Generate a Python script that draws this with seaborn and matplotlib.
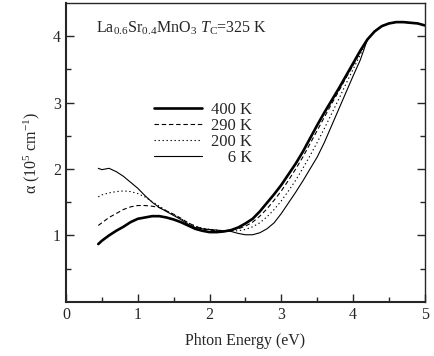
import matplotlib
matplotlib.use("Agg")
import matplotlib.pyplot as plt
import seaborn as sns
import pandas as pd
import numpy as np

# photon energy grid (eV) and absorption coefficient (10^5 cm^-1)
energy = [0.45, 0.5, 0.6, 0.7, 0.8, 0.9, 1.0, 1.1, 1.2, 1.3, 1.4, 1.5, 1.6, 1.7, 1.8, 1.9,
          2.0, 2.1, 2.2, 2.3, 2.4, 2.5, 2.6, 2.7, 2.8, 2.9, 3.0, 3.1, 3.2, 3.3, 3.4, 3.5,
          3.6, 3.7, 3.8, 3.9, 4.0, 4.1, 4.2, 4.3, 4.4, 4.5, 4.6, 4.7, 4.8, 4.9, 5.0]

tail = [4.07, 4.15, 4.19, 4.21, 4.21, 4.20, 4.19, 4.16]

alpha_400 = [0.87, 0.92, 1.00, 1.07, 1.13, 1.20, 1.25, 1.27, 1.29, 1.29, 1.27, 1.24, 1.20, 1.15, 1.10, 1.07,
             1.05, 1.05, 1.06, 1.08, 1.12, 1.18, 1.25, 1.36, 1.49, 1.62, 1.76, 1.92, 2.08, 2.26, 2.46, 2.66,
             2.85, 3.03, 3.21, 3.40, 3.59, 3.78, 3.95] + tail
alpha_290 = [1.15, 1.19, 1.27, 1.33, 1.39, 1.43, 1.45, 1.45, 1.44, 1.42, 1.37, 1.32, 1.26, 1.19, 1.14, 1.10,
             1.08, 1.07, 1.07, 1.08, 1.10, 1.14, 1.20, 1.29, 1.40, 1.53, 1.67, 1.83, 2.00, 2.18, 2.38, 2.58,
             2.78, 2.98, 3.17, 3.37, 3.56, 3.76, 3.95] + tail
alpha_200 = [1.58, 1.61, 1.64, 1.66, 1.67, 1.66, 1.63, 1.58, 1.51, 1.44, 1.37, 1.31, 1.25, 1.19, 1.14, 1.11,
             1.09, 1.08, 1.07, 1.07, 1.07, 1.09, 1.13, 1.19, 1.28, 1.39, 1.52, 1.67, 1.83, 2.01, 2.20, 2.40,
             2.61, 2.83, 3.05, 3.28, 3.50, 3.72, 3.95] + tail
alpha_6 = [2.01, 1.99, 2.01, 1.96, 1.89, 1.80, 1.71, 1.60, 1.50, 1.42, 1.36, 1.30, 1.24, 1.17, 1.12, 1.10,
           1.09, 1.08, 1.07, 1.06, 1.03, 1.01, 1.01, 1.04, 1.10, 1.19, 1.33, 1.49, 1.65, 1.82, 2.00, 2.18,
           2.40, 2.65, 2.90, 3.15, 3.40, 3.64, 3.95] + tail

temps = ["400 K", "290 K", "200 K", "6 K"]
legend_labels = ["400 K", "290 K", "200 K", "\u2007\u20076 K"]

df = pd.concat([
    pd.DataFrame({"E": energy, "alpha": a, "T": t})
    for a, t in zip([alpha_400, alpha_290, alpha_200, alpha_6], temps)
])

sns.set_style("ticks")
plt.rcParams["font.family"] = ["Liberation Serif", "DejaVu Serif"]
plt.rcParams["mathtext.fontset"] = "custom"
plt.rcParams["mathtext.rm"] = "Liberation Serif"
plt.rcParams["mathtext.it"] = "Liberation Serif:italic"

fig = plt.figure(figsize=(4.34, 3.56), dpi=100)
ax = fig.add_axes([0.152, 0.152, 0.827, 0.840])

sns.lineplot(
    data=df, x="E", y="alpha", style="T", size="T",
    sizes={"400 K": 1.9, "290 K": 0.8, "200 K": 0.8, "6 K": 0.8},
    dashes={"400 K": "", "290 K": (4, 2.5), "200 K": (1.2, 2.4), "6 K": ""},
    style_order=temps, size_order=temps,
    color="black", estimator=None, sort=False, legend=False, ax=ax,
)

ax.set_xlim(0, 5)
ax.set_ylim(0, 4.5)
ax.set_xticks([0, 1, 2, 3, 4, 5])
ax.set_xticks(np.arange(0.5, 5, 1.0), minor=True)
ax.set_yticks([1, 2, 3, 4])
ax.set_yticks([0.5, 1.5, 2.5, 3.5], minor=True)
ax.tick_params(which="both", direction="in", right=True, top=False, labelsize=11.5, width=1)
ax.tick_params(which="major", length=6)
ax.tick_params(which="minor", length=3.5)
ax.tick_params(axis="x", pad=4)
for s in ax.spines.values():
    s.set_visible(True)
    s.set_linewidth(1.0)
ax.spines["left"].set_linewidth(1.5)
ax.spines["bottom"].set_linewidth(1.5)

ax.set_xlabel("Phton Energy (eV)", fontsize=11.5, labelpad=7)
ax.set_ylabel("α (10$^5$ cm$^{-1}$)", fontsize=11.5, labelpad=8)

ax.text(0.085, 0.915, "La$_{0.6}$Sr$_{0.4}$MnO$_3$ $T_\\mathrm{C}$=325 K",
        transform=ax.transAxes, fontsize=11.5, va="center", ha="left")

leg = ax.legend(ax.lines[:4], legend_labels, loc="upper left", bbox_to_anchor=(0.245, 0.67),
                frameon=False, fontsize=12, handlelength=2.9, handletextpad=0.5,
                labelspacing=0.0, borderpad=0, borderaxespad=0)

fig.savefig("out.png", dpi=100)
